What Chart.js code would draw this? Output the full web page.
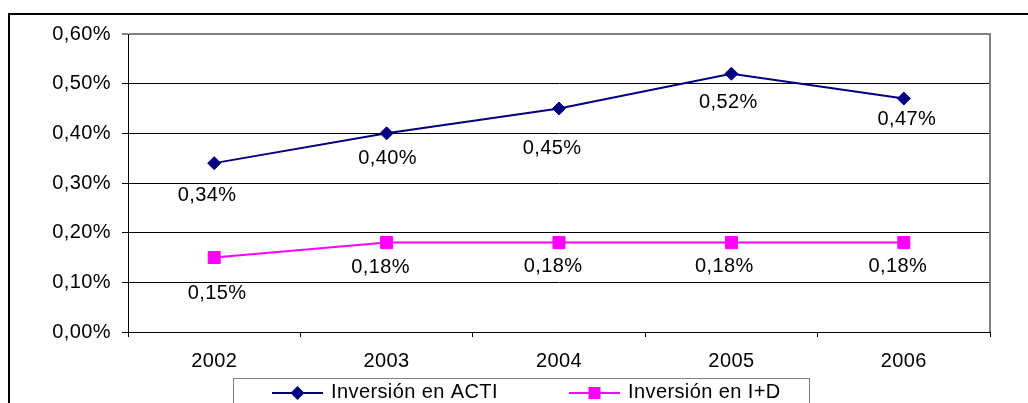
<!DOCTYPE html>
<html>
<head>
<meta charset="utf-8">
<script src="https://cdn.jsdelivr.net/npm/chart.js@4"></script>
<style>
  html, body { margin: 0; padding: 0; background: #fff; }
  canvas { display: block; }
</style>
</head>
<body>
<canvas id="c" width="1028" height="403"></canvas>
<script>
// Years on the horizontal axis
const years = ['2002', '2003', '2004', '2005', '2006'];
// Investment as % of GDP
const inversionACTI = [0.34, 0.40, 0.45, 0.52, 0.47];
const inversionID = [0.15, 0.18, 0.18, 0.18, 0.18];
// Y axis ticks (percent)
const yTicks = [0, 0.1, 0.2, 0.3, 0.4, 0.5, 0.6];

const seriesNames = ['Inversión en ACTI', 'Inversión en I+D'];
const FONT = '"Liberation Sans", Arial, Helvetica, sans-serif';
const FSIZE = 20;

const fmtPct = v => v.toFixed(2).replace('.', ',') + '%';

// Outer frame, right plot border, value labels and the boxed legend
const decorations = {
  id: 'decorations',
  beforeDraw(chart) {
    const c = chart.ctx;
    // slightly wider text throughout
    c.letterSpacing = '0.4px';
    c.save();
    c.fillStyle = '#fff';
    c.fillRect(0, 0, chart.width, chart.height);
    c.restore();
  },
  afterDatasetsDraw(chart, args, opts) {
    const c = chart.ctx;
    const a = chart.chartArea;
    c.save();
    // right edge of the plot area
    c.strokeStyle = '#808080';
    c.lineWidth = 2;
    c.beginPath();
    c.moveTo(a.right, a.top - 1);
    c.lineTo(a.right, a.bottom);
    c.stroke();

    // value labels under each point
    c.fillStyle = '#000';
    c.font = FSIZE + 'px ' + FONT;
    c.textAlign = 'center';
    c.textBaseline = 'middle';
    chart.data.datasets.forEach((ds, i) => {
      const meta = chart.getDatasetMeta(i);
      const offs = opts.labelOffsets[i];
      meta.data.forEach((pt, j) => {
        c.fillText(fmtPct(ds.data[j]), pt.x + offs[j][0], pt.y + offs[j][1]);
      });
    });
    c.restore();
  },
  afterDraw(chart, args, opts) {
    const c = chart.ctx;
    c.save();
    // outer chart frame
    c.strokeStyle = '#000';
    c.lineWidth = 2;
    c.beginPath();
    c.moveTo(9, chart.height + 2);
    c.lineTo(9, 14);
    c.lineTo(chart.width + 2, 14);
    c.stroke();

    // legend box
    const lg = opts.legend;
    c.strokeStyle = '#808080';
    c.lineWidth = 1;
    c.strokeRect(lg.left + 0.5, lg.top + 0.5, lg.right - lg.left, 60);

    c.font = FSIZE + 'px ' + FONT;
    c.textAlign = 'left';
    c.textBaseline = 'middle';
    chart.data.datasets.forEach((ds, i) => {
      const it = lg.items[i];
      const cy = lg.lineY;
      c.strokeStyle = ds.borderColor;
      c.lineWidth = 2;
      c.beginPath();
      c.moveTo(it.x0, cy);
      c.lineTo(it.x1, cy);
      c.stroke();
      const mx = (it.x0 + it.x1) / 2;
      c.fillStyle = ds.borderColor;
      c.beginPath();
      if (ds.pointStyle === 'rectRot') {
        const r = ds.pointRadius + 0.5;
        c.moveTo(mx, cy - r);
        c.lineTo(mx + r, cy);
        c.lineTo(mx, cy + r);
        c.lineTo(mx - r, cy);
        c.closePath();
      } else {
        const s = ds.pointRadius * Math.SQRT1_2;
        c.rect(mx - s, cy - s, 2 * s, 2 * s);
      }
      c.fill();
      c.fillStyle = '#000';
      c.fillText(ds.label, it.tx, cy - 1);
    });
    c.restore();
  }
};

new Chart(document.getElementById('c'), {
  type: 'line',
  data: {
    labels: years,
    datasets: [
      {
        label: seriesNames[0],
        data: inversionACTI,
        borderColor: '#000080',
        backgroundColor: '#000080',
        borderWidth: 2,
        pointStyle: 'rectRot',
        pointRadius: 6.5,
        pointBorderWidth: 1,
        tension: 0
      },
      {
        label: seriesNames[1],
        data: inversionID,
        borderColor: '#FF00FF',
        backgroundColor: '#FF00FF',
        borderWidth: 2,
        pointStyle: 'rect',
        pointRadius: 8.5,
        pointBorderWidth: 1,
        tension: 0
      }
    ]
  },
  options: {
    responsive: false,
    animation: false,
    events: [],
    layout: { padding: { top: 34, right: 38, left: 0, bottom: 0 } },
    plugins: {
      legend: { display: false },
      title: { display: false },
      tooltip: { enabled: false },
      decorations: {
        labelOffsets: [
          [[-7, 32], [1, 25], [-7, 40], [-3, 29], [3, 21]],
          [[3, 36], [-6, 25], [-6, 24], [-7, 24], [-6, 24]]
        ],
        legend: {
          left: 233, top: 378, right: 809, lineY: 393,
          items: [
            { x0: 272, x1: 323, tx: 331 },
            { x0: 569, x1: 620, tx: 628 }
          ]
        }
      }
    },
    scales: {
      x: {
        type: 'category',
        offset: true,
        afterFit(s) { s.height = 71; },
        grid: {
          display: true,
          offset: true,
          drawOnChartArea: false,
          drawTicks: true,
          tickLength: 5,
          tickColor: '#000',
          color: '#000'
        },
        border: { display: true, color: '#000', width: 1 },
        ticks: {
          color: '#000',
          font: { family: FONT, size: FSIZE },
          padding: 12,
          maxRotation: 0
        }
      },
      y: {
        min: yTicks[0],
        max: yTicks[yTicks.length - 1],
        afterFit(s) { s.width = 128; },
        afterBuildTicks(s) { s.ticks = yTicks.map(v => ({ value: v })); },
        grid: {
          color: ctx => (ctx.tick && ctx.tick.value === 0.6 ? '#808080' : '#000'),
          lineWidth: ctx => (ctx.tick && ctx.tick.value === 0.6 ? 2 : 1),
          tickLength: 6,
          tickColor: '#000',
          tickWidth: 1
        },
        border: { display: true, color: '#000', width: 1 },
        ticks: {
          color: '#000',
          font: { family: FONT, size: FSIZE },
          padding: 11,
          callback: v => fmtPct(v)
        }
      }
    }
  },
  plugins: [decorations]
});
</script>
</body>
</html>
